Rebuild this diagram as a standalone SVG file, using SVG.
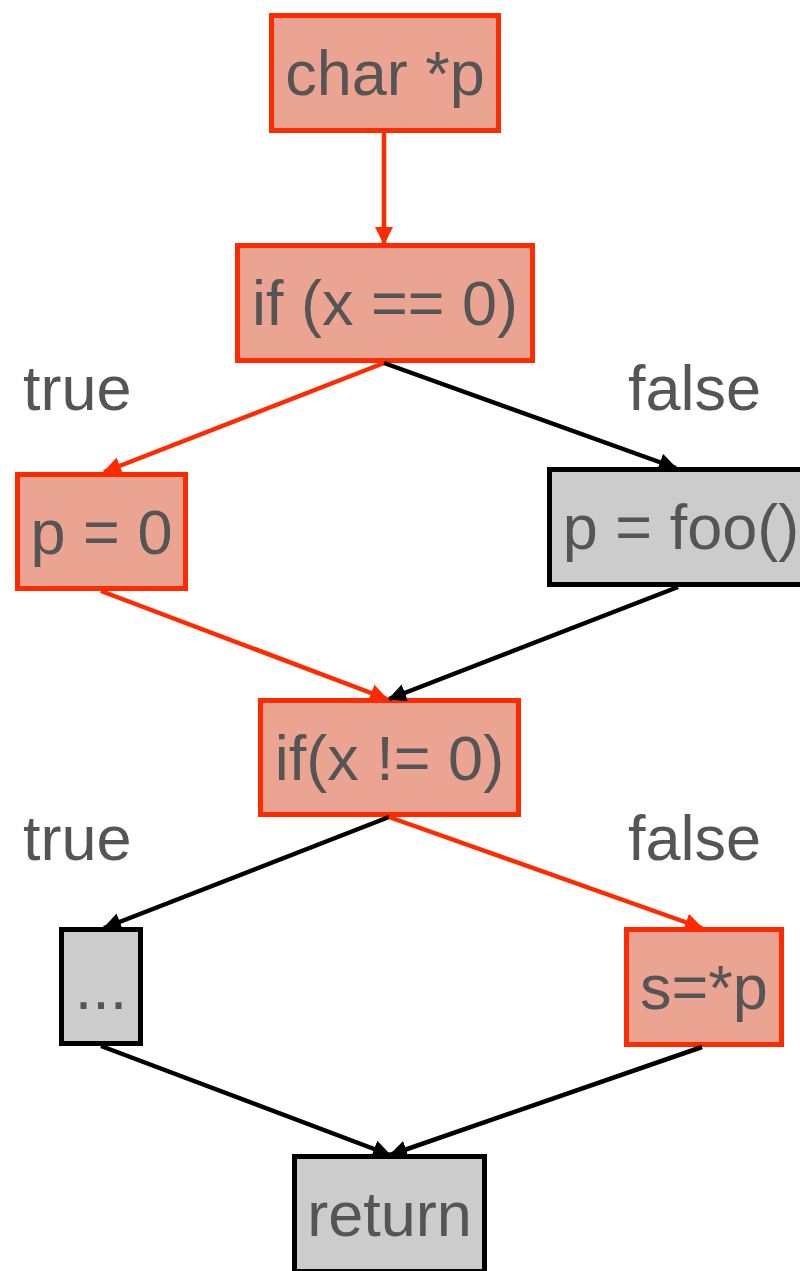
<svg xmlns="http://www.w3.org/2000/svg" width="800" height="1271" viewBox="0 0 800 1271">
<style>
.hot{fill:#EBA491;stroke:#FF2A00;stroke-width:5}
.cold{fill:#CCCCCC;stroke:#000000;stroke-width:5}
.t{font-family:"Liberation Sans",Arial,sans-serif;font-size:63px;fill:#555555;text-anchor:middle}
.lbl{font-family:"Liberation Sans",Arial,sans-serif;font-size:63px;fill:#555555}
.er{stroke:#FF2A00;stroke-width:4.5;fill:none;marker-end:url(#ar)}
.eb{stroke:#000000;stroke-width:4.5;fill:none;marker-end:url(#ab)}
</style>
<defs>
<marker id="ar" markerUnits="userSpaceOnUse" markerWidth="20" markerHeight="20" refX="17" refY="9" orient="auto"><path d="M0,0 L18,9 L0,18 z" fill="#FF2A00"/></marker>
<marker id="ab" markerUnits="userSpaceOnUse" markerWidth="20" markerHeight="20" refX="17" refY="9" orient="auto"><path d="M0,0 L18,9 L0,18 z" fill="#000000"/></marker>
</defs>
<rect width="800" height="1271" fill="#FFFFFF"/>
<g id="n1"><rect class="hot" x="271.5" y="15.5" width="227" height="115"/><text class="t" x="385" y="95">char *p</text></g>
<g id="n2"><rect class="hot" x="237.5" y="245.5" width="295" height="115"/><text class="t" x="385" y="325">if (x == 0)</text></g>
<g id="n3"><rect class="hot" x="17.5" y="474.5" width="168" height="114"/><text class="t" x="101.5" y="554">p = 0</text></g>
<g id="n4"><rect class="cold" x="549.5" y="469.5" width="262" height="115"/><text class="t" x="681" y="549">p = foo()</text></g>
<g id="n5"><rect class="hot" x="260.5" y="700.5" width="258" height="114"/><text class="t" x="389.5" y="780">if(x != 0)</text></g>
<g id="n6"><rect class="cold" x="61.5" y="929.5" width="79" height="114"/><text class="t" x="101" y="1009">...</text></g>
<g id="n7"><rect class="hot" x="626.5" y="929.5" width="155" height="115"/><text class="t" x="704" y="1009">s=*p</text></g>
<g id="n8"><rect class="cold" x="294.5" y="1156.5" width="190" height="115"/><text class="t" x="389.5" y="1236">return</text></g>
<g id="labels">
<text class="lbl" x="23" y="410">true</text>
<text class="lbl" x="628" y="410">false</text>
<text class="lbl" x="23" y="860">true</text>
<text class="lbl" x="628" y="860">false</text>
</g>
<g id="connectors">
<line class="er" x1="384" y1="133" x2="384" y2="244"/>
<line class="er" x1="384" y1="363" x2="104" y2="472"/>
<line class="eb" x1="384" y1="363" x2="676" y2="468"/>
<line class="er" x1="101" y1="591" x2="387" y2="699"/>
<line class="eb" x1="678" y1="587" x2="389" y2="699"/>
<line class="eb" x1="389" y1="817" x2="104" y2="928"/>
<line class="er" x1="389" y1="817" x2="702" y2="928"/>
<line class="eb" x1="101" y1="1046" x2="390" y2="1155"/>
<line class="eb" x1="702" y1="1047" x2="390" y2="1155"/>
</g>
</svg>
